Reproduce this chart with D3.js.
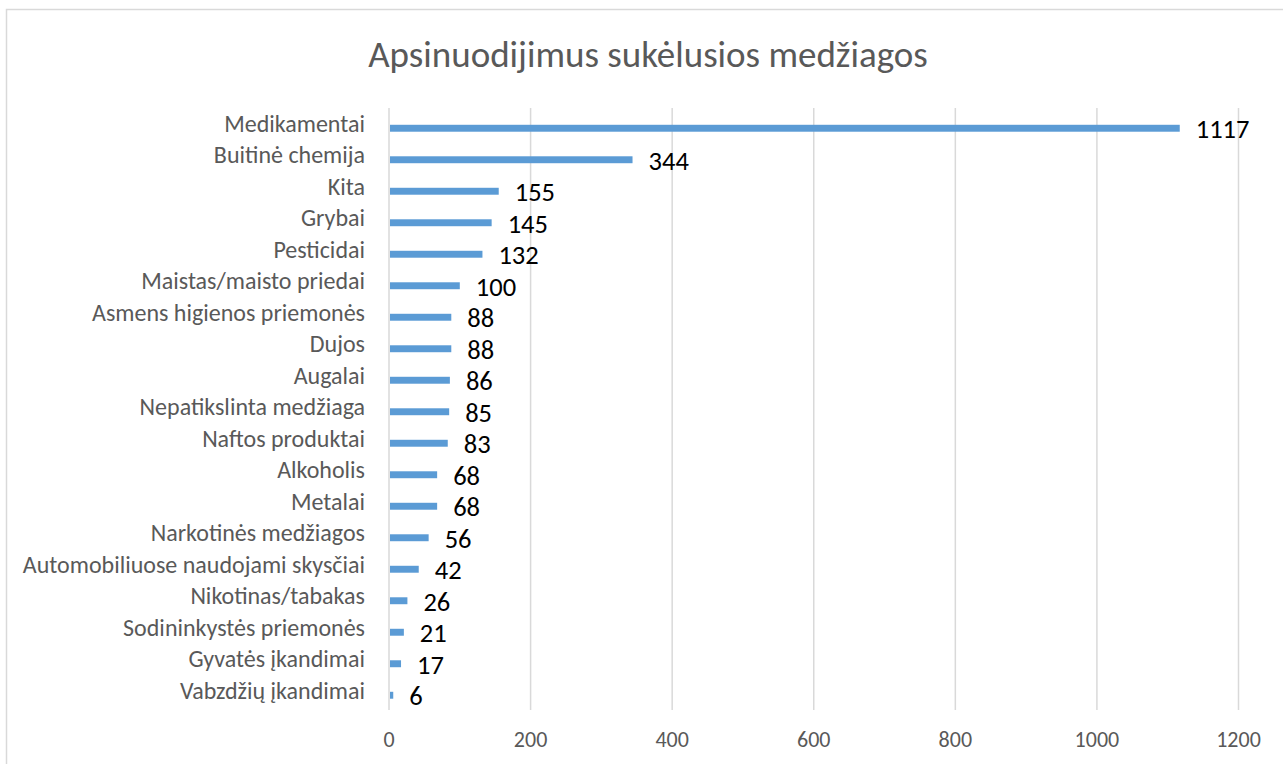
<!DOCTYPE html>
<html>
<head>
  <meta charset="utf-8">
  <title>Apsinuodijimus sukėlusios medžiagos</title>
  <script src="https://cdn.jsdelivr.net/npm/d3@7"></script>
</head>
<style>
  html, body { margin: 0; padding: 0; background: white; overflow: hidden }
  svg { font-family: Carlito, Calibri, Lato, sans-serif }
</style>
<body>
  <div id="chart"></div>
</body>
<script>
  const categories = ['Medikamentai', 'Buitinė chemija', 'Kita', 'Grybai', 'Pesticidai',
    'Maistas/maisto priedai', 'Asmens higienos priemonės', 'Dujos', 'Augalai',
    'Nepatikslinta medžiaga', 'Naftos produktai', 'Alkoholis', 'Metalai',
    'Narkotinės medžiagos', 'Automobiliuose naudojami skysčiai', 'Nikotinas/tabakas',
    'Sodininkystės priemonės', 'Gyvatės įkandimai', 'Vabzdžių įkandimai']
  const values = [1117, 344, 155, 145, 132, 100, 88, 88, 86, 85, 83, 68, 68, 56, 42, 26, 21, 17, 6]
  const xTicks = [0, 200, 400, 600, 800, 1000, 1200]
  const title = 'Apsinuodijimus sukėlusios medžiagos'

  const width = 1283, height = 764
  const svg = d3.select('#chart').append('svg')
    .attr('width', width).attr('height', height)

  // chart frame
  svg.append('rect')
    .attr('x', 6.5).attr('y', 9.5)
    .attr('width', 1290).attr('height', 770)
    .attr('fill', 'none').attr('stroke', '#d9d9d9').attr('stroke-width', 1.5)

  svg.append('text')
    .attr('x', 648).attr('y', 67)
    .attr('text-anchor', 'middle')
    .attr('fill', '#595959')
    .style('font-size', '37px')
    .text(title)

  const x = d3.scaleLinear().domain([0, 1200]).range([389, 1238.5])
  const y = d3.scaleBand().domain(categories).range([112.5, 711]).paddingInner(0.78).paddingOuter(0.39)

  // gridlines
  svg.append('g').selectAll('line')
    .data(xTicks)
    .enter().append('line')
    .attr('x1', d => x(d)).attr('x2', d => x(d))
    .attr('y1', 108).attr('y2', 710)
    .attr('stroke', '#d9d9d9').attr('stroke-width', 1.5)

  svg.append('g').selectAll('text')
    .data(xTicks)
    .enter().append('text')
    .attr('x', d => x(d)).attr('y', 747)
    .attr('text-anchor', 'middle')
    .attr('fill', '#595959')
    .style('font-size', '22px')
    .text(d => d)

  svg.append('g').selectAll('rect')
    .data(values)
    .enter().append('rect')
    .attr('x', x(0) + 1)
    .attr('y', (d, i) => y(categories[i]))
    .attr('width', d => x(d) - x(0) - 1)
    .attr('height', y.bandwidth())
    .attr('fill', '#5b9bd5')

  svg.append('g').selectAll('text')
    .data(categories)
    .enter().append('text')
    .attr('x', 365)
    .attr('y', d => y(d) + y.bandwidth() / 2 + 3.5)
    .attr('text-anchor', 'end')
    .attr('fill', '#595959')
    .style('font-size', '24px')
    .text(d => d)

  svg.append('g').selectAll('text')
    .data(values)
    .enter().append('text')
    .attr('x', d => x(d) + 16)
    .attr('y', (d, i) => y(categories[i]) + y.bandwidth() / 2 + 10)
    .attr('fill', 'black')
    .style('font-size', '26.5px')
    .text(d => d)
</script>
</html>
